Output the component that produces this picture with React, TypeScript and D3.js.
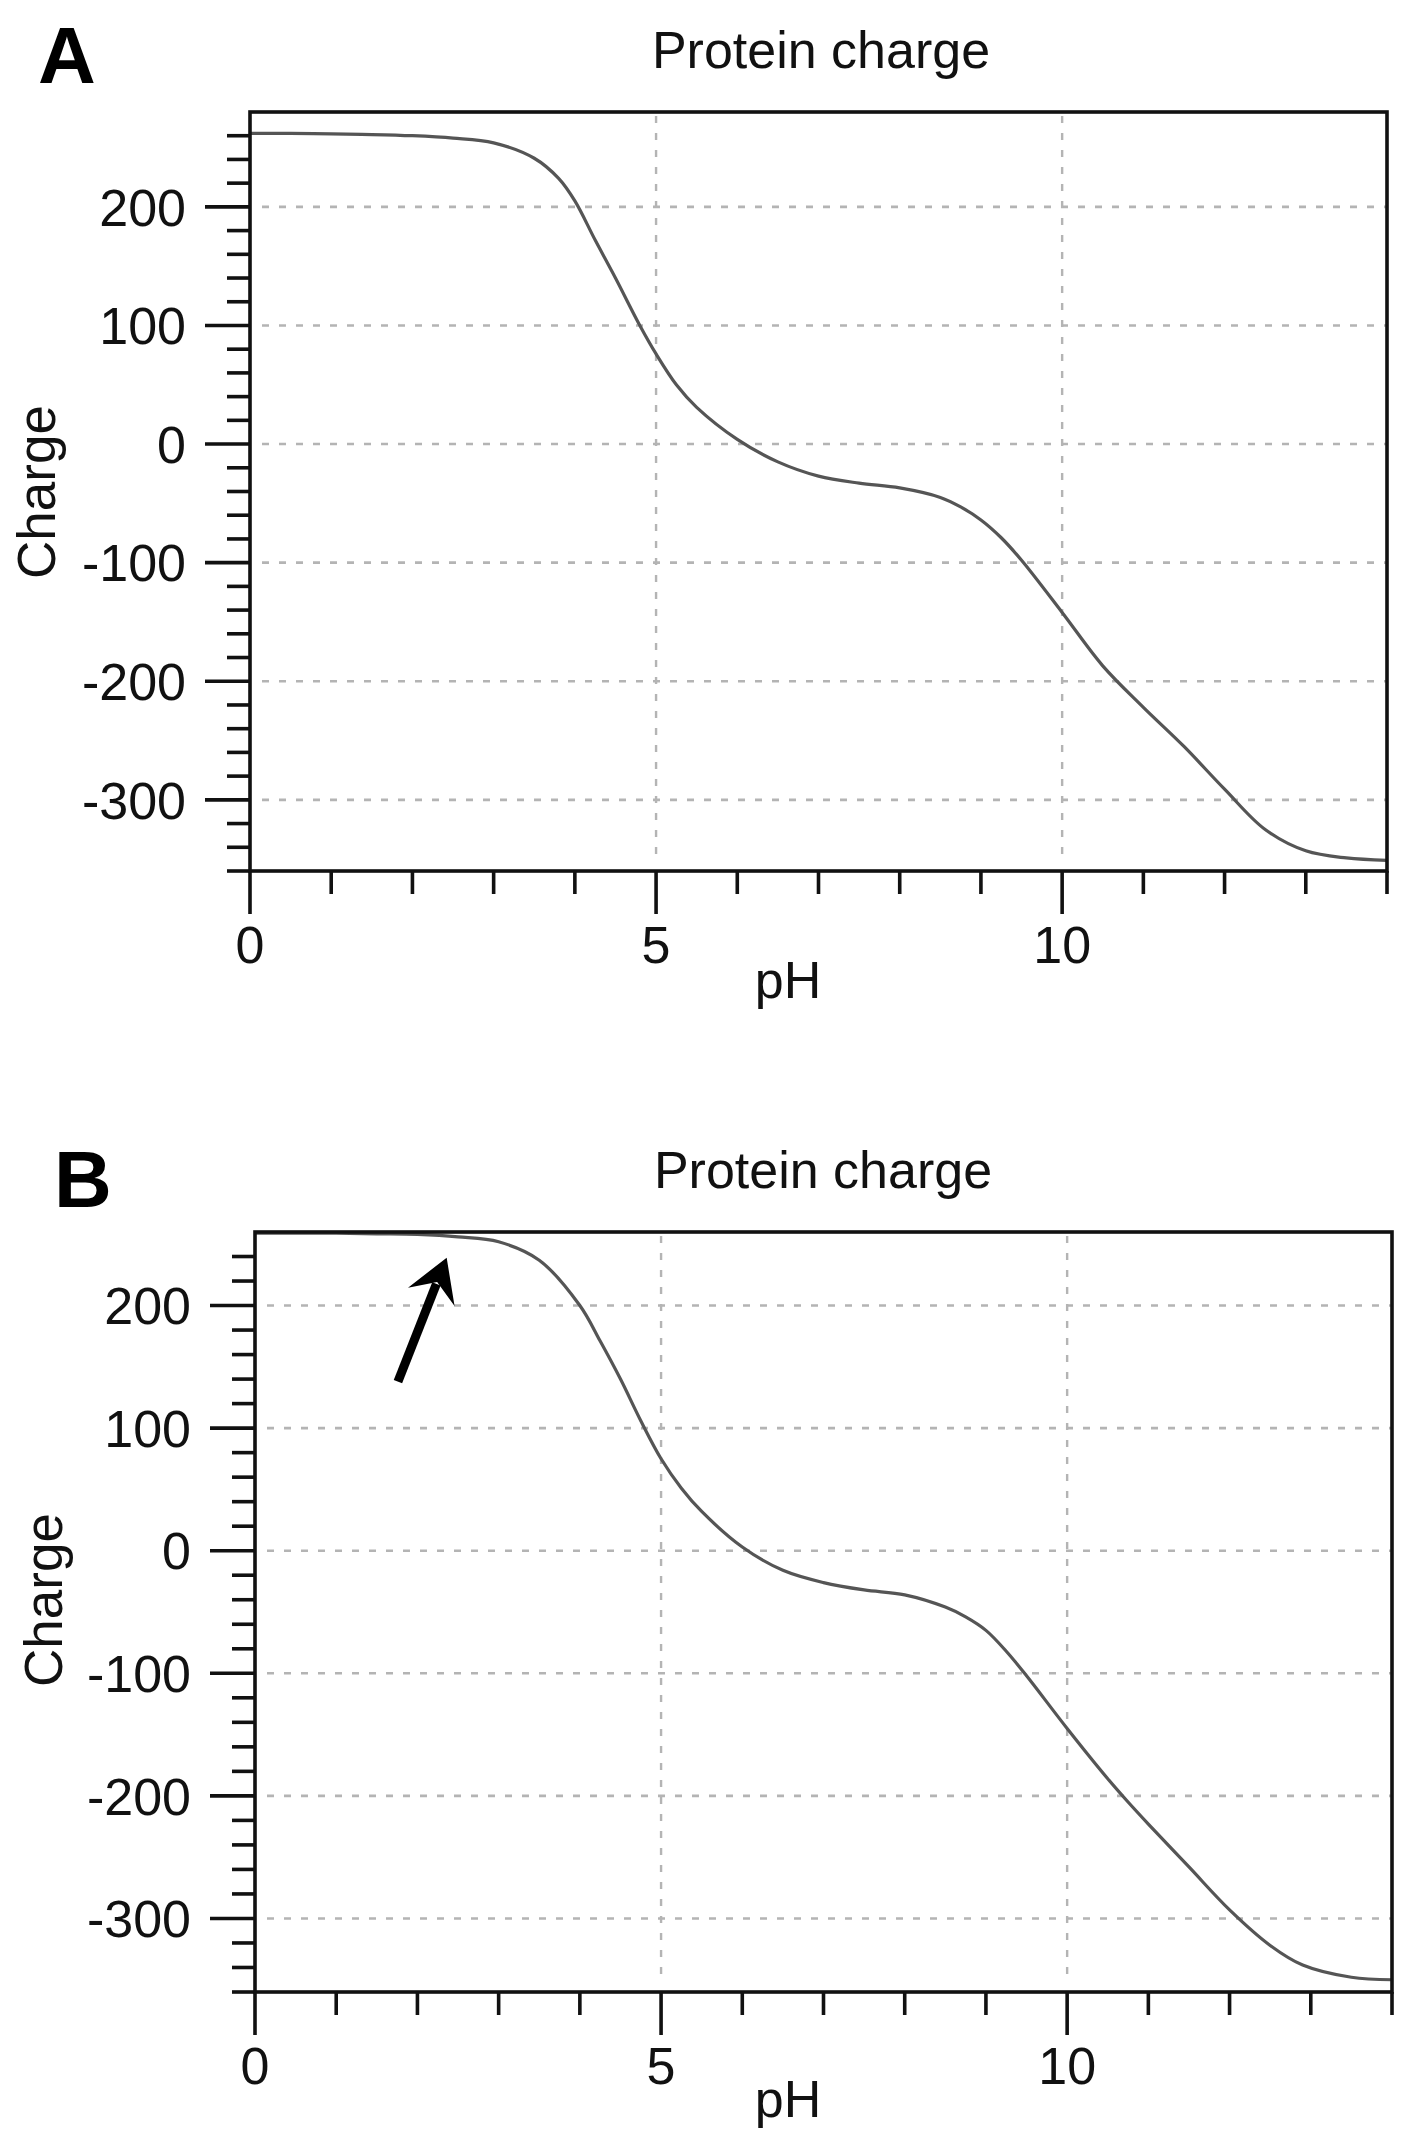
import * as d3 from "d3";

// Protein charge vs pH, two panels
const phA = [0, 0.5, 1, 1.5, 2, 2.5, 3, 3.5, 3.8, 4, 4.25, 4.5, 4.8, 5, 5.25, 5.5, 6, 6.5, 7, 7.5, 8, 8.5, 8.75, 9, 9.25, 9.5, 10, 10.5, 11, 11.5, 12, 12.5, 13, 13.5, 14];
const chargeA = [262, 262, 261.5, 261, 260, 258, 254, 241, 224, 205, 172, 140, 100, 76, 50, 31, 4, -15, -27, -33, -37, -45, -53, -64, -79, -98, -142, -187, -222, -255, -291, -325, -343, -349, -351];

const phB = [0, 1, 1.5, 2, 2.5, 3, 3.5, 4, 4.25, 4.5, 4.75, 5, 5.25, 5.5, 6, 6.5, 7, 7.5, 8, 8.5, 8.75, 9, 9.25, 9.5, 10, 10.5, 10.75, 11, 11.5, 12, 12.5, 12.9, 13.5, 14];
const chargeB = [259, 259, 258.5, 258, 256, 252, 237, 200, 171, 140, 106, 75, 51, 32, 3, -16, -26, -32, -36, -46, -54, -65, -82, -102, -145, -186, -205, -223, -258, -293, -322, -338, -348, -350];

const xTickValues = d3.range(0, 15, 1);
const xLabelValues = [0, 5, 10];
const yLabelValues = [200, 100, 0, -100, -200, -300];
const vGridValues = [5, 10];

// arrow in panel B, data coords (pH, charge)
const arrowTail = [1.76, 138];
const arrowTip = [2.36, 239];

const FONT = "'Liberation Sans', Arial, Helvetica, sans-serif";

type PanelProps = {
  letter: string;
  ph: number[];
  charge: number[];
  left: number; right: number; top: number; bottom: number;
  yMax: number;
  letterX: number; letterY: number;
  titleX: number; titleY: number;
  chargeX: number; chargeY: number;
  phX: number; phY: number;
  arrow?: boolean;
};

function Panel(p: PanelProps) {
  const x = d3.scaleLinear().domain([0, 14]).range([p.left, p.right]);
  const y = d3.scaleLinear().domain([-360, p.yMax]).range([p.bottom, p.top]);
  const yTicks = d3.range(-360, p.yMax, 20);
  const pts = p.ph.map((v, i) => [v, p.charge[i]] as [number, number]);
  const line = d3.line<[number, number]>().x(d => x(d[0])).y(d => y(d[1])).curve(d3.curveCatmullRom.alpha(0.5));

  let arrowEls = null;
  if (p.arrow) {
    const tx = x(arrowTail[0]), ty = y(arrowTail[1]);
    const hx = x(arrowTip[0]), hy = y(arrowTip[1]);
    const len = Math.hypot(hx - tx, hy - ty);
    const ux = (hx - tx) / len, uy = (hy - ty) / len;
    const px = -uy, py = ux;
    const hl = 42, hw = 25, notch = 26;
    const head = [
      [hx, hy],
      [hx - ux * hl + px * hw, hy - uy * hl + py * hw],
      [hx - ux * notch, hy - uy * notch],
      [hx - ux * hl - px * hw, hy - uy * hl - py * hw],
    ];
    arrowEls = (
      <g>
        <line x1={tx} y1={ty} x2={hx - ux * (notch + 2)} y2={hy - uy * (notch + 2)} stroke="#000" strokeWidth={9} />
        <path d={"M" + head.map(h => h.join(",")).join("L") + "Z"} fill="#000" />
      </g>
    );
  }

  return (
    <g fontFamily={FONT}>
      <text x={p.letterX} y={p.letterY} fontSize={80} fontWeight="bold" fill="#000">{p.letter}</text>
      <text x={p.titleX} y={p.titleY} fontSize={52} textAnchor="middle" fill="#111">Protein charge</text>

      {/* grid */}
      {yLabelValues.map(v => (
        <line key={"h" + v} x1={p.left + 12} x2={p.right} y1={y(v)} y2={y(v)}
          stroke="#b4b4b4" strokeWidth={2.6} strokeDasharray="7,10" />
      ))}
      {vGridValues.map(v => (
        <line key={"v" + v} x1={x(v)} x2={x(v)} y1={p.top + 4} y2={p.bottom - 12}
          stroke="#b4b4b4" strokeWidth={2.4} strokeDasharray="7,10" />
      ))}

      {/* curve */}
      <path d={line(pts) ?? ""} fill="none" stroke="#555" strokeWidth={3.2} />

      {/* frame */}
      <rect x={p.left} y={p.top} width={p.right - p.left} height={p.bottom - p.top}
        fill="none" stroke="#111" strokeWidth={3.6} />

      {/* y ticks */}
      {yTicks.map(v => {
        const major = v % 100 === 0;
        return <line key={"yt" + v} x1={p.left - (major ? 45 : 23)} x2={p.left} y1={y(v)} y2={y(v)}
          stroke="#111" strokeWidth={3.6} />;
      })}
      {yLabelValues.map(v => (
        <text key={"yl" + v} x={p.left - 64} y={y(v)} dy="0.36em" fontSize={52} textAnchor="end" fill="#111">{v}</text>
      ))}

      {/* x ticks */}
      {xTickValues.map(v => {
        const major = v % 5 === 0;
        return <line key={"xt" + v} x1={x(v)} x2={x(v)} y1={p.bottom} y2={p.bottom + (major ? 43 : 23)}
          stroke="#111" strokeWidth={3.6} />;
      })}
      {xLabelValues.map(v => (
        <text key={"xl" + v} x={x(v)} y={p.bottom + 92} fontSize={52} textAnchor="middle" fill="#111">{v}</text>
      ))}

      <text x={p.phX} y={p.phY} fontSize={52} textAnchor="middle" fill="#111">pH</text>
      <text transform={`translate(${p.chargeX},${p.chargeY}) rotate(-90)`} fontSize={53} textAnchor="middle" fill="#111">Charge</text>

      {arrowEls}
    </g>
  );
}

export default function App() {
  return (
    <div style={{ position: "absolute", left: 0, top: 0, background: "#fff" }}>
      <svg width={1417} height={2140} viewBox="0 0 1417 2140" style={{ display: "block" }}>
        <rect width={1417} height={2140} fill="#fff" />
        <Panel letter="A" ph={phA} charge={chargeA}
          left={250} right={1387} top={112} bottom={871} yMax={280}
          letterX={38} letterY={83} titleX={821} titleY={68}
          chargeX={55} chargeY={492} phX={788} phY={998} />
        <Panel letter="B" ph={phB} charge={chargeB}
          left={255} right={1392} top={1232} bottom={1992} yMax={260}
          letterX={54} letterY={1207} titleX={823} titleY={1188}
          chargeX={62} chargeY={1600} phX={788} phY={2117} arrow />
      </svg>
    </div>
  );
}
